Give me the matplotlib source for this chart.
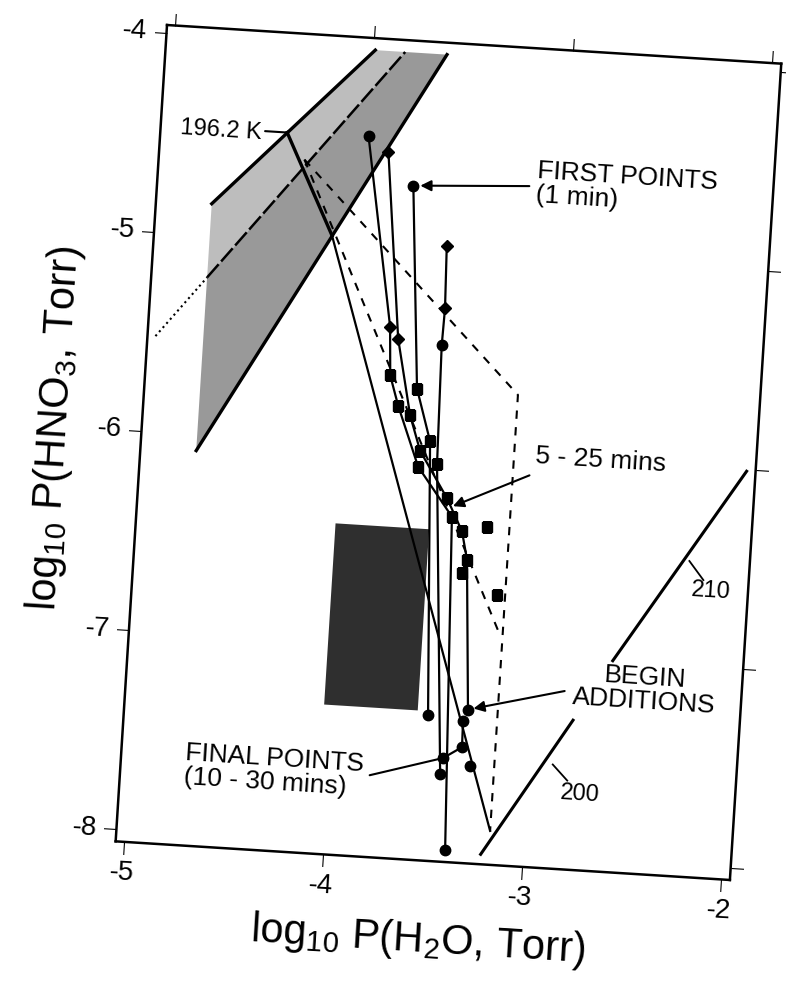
import matplotlib
matplotlib.use("Agg")
import matplotlib.pyplot as plt
from matplotlib.transforms import Affine2D
import mpl_toolkits.axisartist.floating_axes as floating_axes
from mpl_toolkits.axisartist.grid_finder import FixedLocator, DictFormatter

plt.rcParams['font.family'] = ['Liberation Sans', 'DejaVu Sans']
plt.rcParams['mathtext.fontset'] = 'custom'
plt.rcParams['mathtext.rm'] = 'Liberation Sans'
plt.rcParams['mathtext.default'] = 'regular'

TILT = -3.6   # the scanned page is a bit crooked

x_ticks = [-5, -4, -3, -2]
y_ticks = [-8, -7, -6, -5, -4]
x_range = (-5.04, -1.955)
y_range = (-8.06, -3.96)

# shaded band, two tones, and its edges
band_light_x = [-4.76, -3.99, -3.84, -4.76]
band_light_y = [-4.84, -4.02, -4.02, -5.21]
band_dark_x = [-4.76, -3.84, -3.63, -4.76]
band_dark_y = [-5.21, -4.02, -4.02, -6.08]
upper_edge_x = [-4.76, -3.99]
upper_edge_y = [-4.84, -4.02]
lower_edge_x = [-4.76, -3.63]
lower_edge_y = [-6.08, -4.02]
mid_dot_x = [-5.0, -4.76]
mid_dot_y = [-5.52, -5.21]
mid_dash_x = [-4.76, -3.84]
mid_dash_y = [-5.21, -4.02]

# dark box
box_x = [-4.04, -3.57, -3.57, -4.04]
box_y = [-7.31, -7.31, -6.40, -6.40]

# line from the 196.2 K point
k_line_x = [-4.405, -4.148, -3.17]
k_line_y = [-4.46, -4.962, -7.89]

# dashed envelope
env_a_x = [-4.31, -3.168, -3.17]
env_a_y = [-4.59, -5.70, -7.89]
env_b_x = [-4.31, -3.183]
env_b_y = [-4.59, -6.906]

# isotherms
iso200_x = [-3.21, -2.79]
iso200_y = [-8.01, -7.31]
iso210_x = [-2.61, -2.0]
iso210_y = [-7.0, -6.01]

# experimental runs
run1_x = [-3.757, -3.675, -3.593, -3.517]
run1_y = [-4.686, -5.70, -5.96, -7.328]
run1_m = ['o', 's', 's', 'o']

run2_x = [-3.997, -3.829, -3.813, -3.764, -3.645, -3.46, -3.389]
run2_y = [-4.451, -5.399, -5.643, -5.791, -6.09, -6.33, -8.0]
run2_m = ['o', 'D', 's', 's', 's', 's', 'o']

run3_x = [-3.892, -3.785, -3.701, -3.64, -3.49, -3.405, -3.371, -3.319]
run3_y = [-4.528, -5.456, -5.836, -6.01, -6.24, -6.40, -6.54, -7.29]
run3_m = ['D', 'D', 's', 's', 's', 's', 's', 'o']

run4_x = [-3.571, -3.56, -3.565, -3.551, -3.438]
run4_y = [-4.976, -5.29, -5.476, -6.07, -7.62]
run4_m = ['D', 'D', 'o', 's', 'o']

final_x = [-3.34, -3.337, -3.428]
final_y = [-7.35, -7.48, -7.54]
final_m = ['o', 'o', 'o']

loose_x = [-3.291, -3.392, -3.28, -3.21]
loose_y = [-7.57, -6.61, -6.37, -6.71]
loose_m = ['o', 's', 's', 's']

tr = Affine2D().rotate_deg(TILT)
grid_helper = floating_axes.GridHelperCurveLinear(
    tr, extremes=(x_range[0], x_range[1], y_range[0], y_range[1]),
    grid_locator1=FixedLocator(x_ticks),
    grid_locator2=FixedLocator(y_ticks),
    tick_formatter1=DictFormatter({v: str(v) for v in x_ticks}),
    tick_formatter2=DictFormatter({v: str(v) for v in y_ticks}))

fig = plt.figure(figsize=(7.86, 9.92), dpi=100)
ax = fig.add_axes([0.1378, 0.1043, 0.8655, 0.8791],
                  axes_class=floating_axes.FloatingAxes, grid_helper=grid_helper)
aux = ax.get_aux_axes(tr)
aux.patch = ax.patch
ax.patch.zorder = 0.9

for side in ['left', 'right', 'top', 'bottom']:
    a = ax.axis[side]
    a.line.set_linewidth(1.8)
    a.major_ticks.set_tick_out(True)
    a.major_ticks.set_ticksize(9)
    a.major_ticks.set_linewidth(1.5)
    a.major_ticklabels.set_fontsize(20)
    a.major_ticklabels.set_pad(5)

ax.axis['bottom'].label.set_text('log$_{10}$ P(H$_2$O, Torr)')
ax.axis['bottom'].label.set_fontsize(30)
ax.axis['bottom'].label.set_pad(14)
ax.axis['left'].label.set_text('log$_{10}$ P(HNO$_3$, Torr)')
ax.axis['left'].label.set_fontsize(30)
ax.axis['left'].label.set_pad(14)

# band
aux.fill(band_light_x, band_light_y, color='#bdbdbd', lw=0, zorder=1)
aux.fill(band_dark_x, band_dark_y, color='#999999', lw=0, zorder=1)
aux.plot(upper_edge_x, upper_edge_y, color='black', lw=2.4, zorder=2)
aux.plot(lower_edge_x, lower_edge_y, color='black', lw=2.4, zorder=2)
aux.plot(mid_dot_x, mid_dot_y, color='black', lw=1.5, ls=':', zorder=2)
aux.plot(mid_dash_x, mid_dash_y, color='black', lw=1.8, dashes=(7, 1.5), zorder=2)

aux.fill(box_x, box_y, color='#2f2f2f', lw=0, zorder=1)

aux.plot(k_line_x[:2], k_line_y[:2], color='black', lw=2.4, zorder=3)
aux.plot(k_line_x[1:], k_line_y[1:], color='black', lw=1.6, zorder=3)

aux.plot(env_a_x, env_a_y, color='black', lw=1.5, dashes=(4, 4), zorder=3)
aux.plot(env_b_x, env_b_y, color='black', lw=1.5, dashes=(4, 4), zorder=3)

aux.plot(iso200_x, iso200_y, color='black', lw=2.2, zorder=3)
aux.plot(iso210_x, iso210_y, color='black', lw=2.2, zorder=3)

sizes = {'o': 7.5, 's': 7, 'D': 6}
for xs, ys, ms, joined in [(run1_x, run1_y, run1_m, True),
                           (run2_x, run2_y, run2_m, True),
                           (run3_x, run3_y, run3_m, True),
                           (run4_x, run4_y, run4_m, True),
                           (final_x, final_y, final_m, True),
                           (loose_x, loose_y, loose_m, False)]:
    if joined:
        aux.plot(xs, ys, color='black', lw=1.6, zorder=4)
    for x, y, m in zip(xs, ys, ms):
        aux.plot([x], [y], marker=m, ms=sizes[m], color='black', ls='none', zorder=5)

# labels and leaders
txt = dict(fontsize=19, rotation=TILT, color='black', zorder=6)
aux.annotate('196.2 K', xy=(-4.405, -4.46), xytext=(-4.53, -4.46),
             ha='right', va='center', fontsize=17, rotation=TILT,
             arrowprops=dict(arrowstyle='-', lw=1.5, color='black',
                             relpos=(1, 0.5), shrinkA=0, shrinkB=0))
aux.annotate('FIRST POINTS\n(1 min)', xy=(-3.757, -4.686), xytext=(-3.148, -4.665),
             ha='left', va='center', linespacing=1.0,
             arrowprops=dict(arrowstyle='-|>', lw=1.5, color='black', mutation_scale=16,
                             relpos=(0, 0.55), shrinkA=2, shrinkB=5), **txt)
aux.annotate('5 - 25 mins', xy=(-3.458, -6.277), xytext=(-3.063, -6.022),
             ha='left', va='center',
             arrowprops=dict(arrowstyle='-|>', lw=1.5, color='black', mutation_scale=16,
                             relpos=(0, 0.1), shrinkA=2, shrinkB=0), **txt)
aux.annotate('BEGIN\nADDITIONS', xy=(-3.319, -7.29), xytext=(-2.442, -7.135),
             ha='center', va='center', linespacing=1.0,
             arrowprops=dict(arrowstyle='-|>', lw=1.5, color='black', mutation_scale=16,
                             relpos=(0, 0.5), shrinkA=3, shrinkB=4), **txt)
aux.annotate('FINAL POINTS\n(10 - 30 mins)', xy=(-3.428, -7.54), xytext=(-4.7265, -7.685),
             ha='left', va='center', linespacing=1.0,
             arrowprops=dict(arrowstyle='-', lw=1.5, color='black',
                             relpos=(1, 0.4), shrinkA=2, shrinkB=0), **txt)

aux.plot([-2.258, -2.182], [-6.477, -6.568], color='black', lw=1.3, zorder=3)
aux.text(-2.139, -6.62, '210', ha='center', va='center', fontsize=17, rotation=TILT)
aux.plot([-2.8775, -2.80], [-7.538, -7.614], color='black', lw=1.3, zorder=3)
aux.text(-2.733, -7.68, '200', ha='center', va='center', fontsize=17, rotation=TILT)

fig.savefig('out.png', dpi=100)
